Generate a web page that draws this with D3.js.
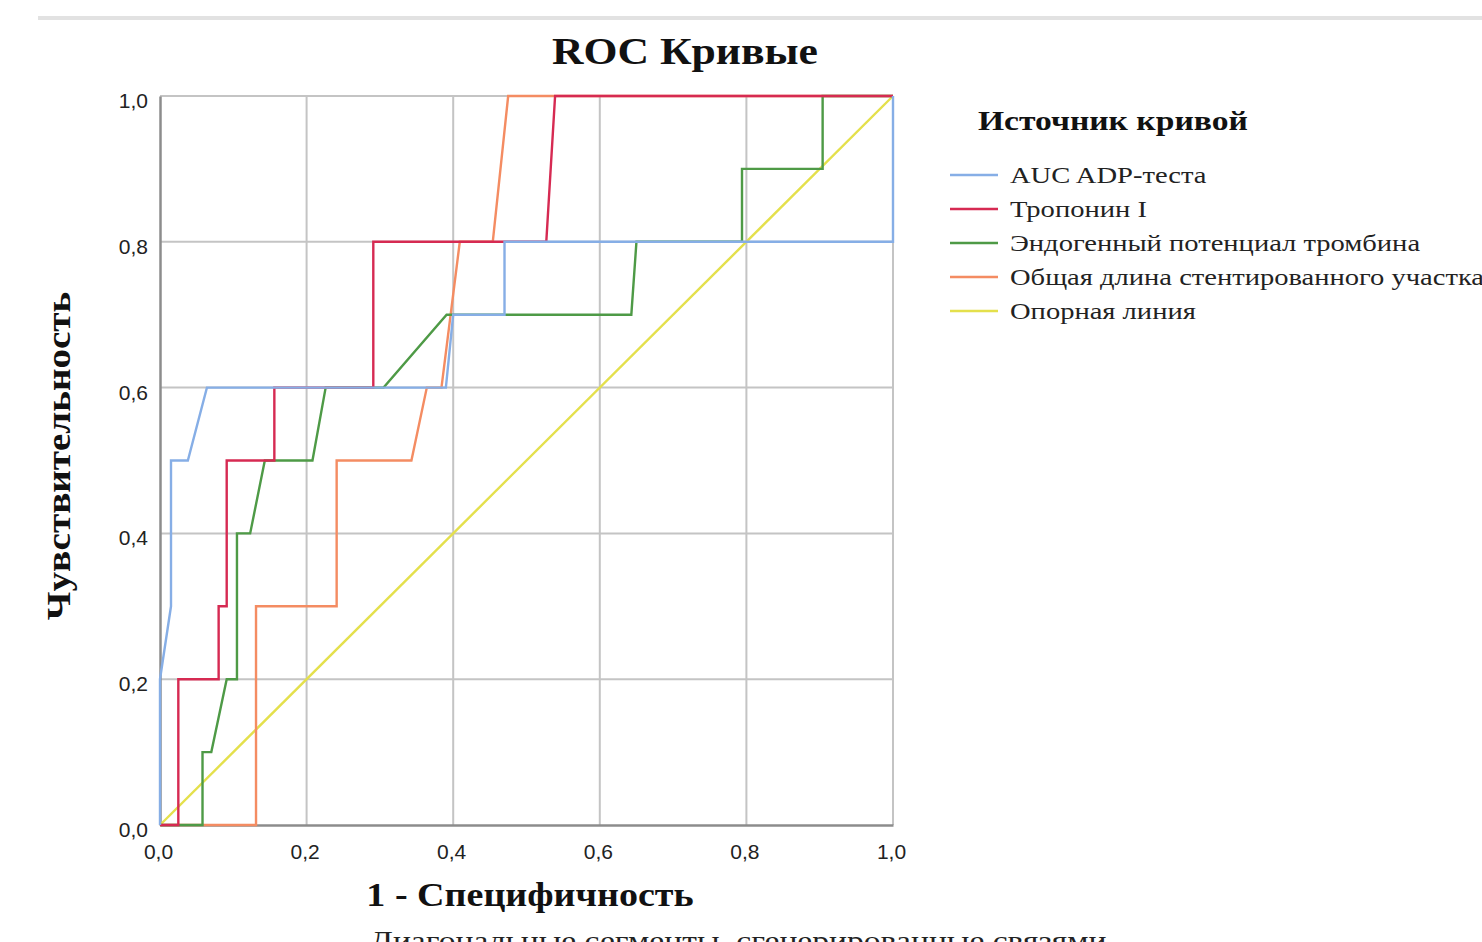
<!DOCTYPE html>
<html><head><meta charset="utf-8">
<script src="https://cdn.jsdelivr.net/npm/d3@7"></script>
<style>body{margin:0;background:#fff;overflow:hidden}</style>
</head><body>
<svg id="c" width="1482" height="942"></svg>
<script>
const title = "ROC Кривые";
const xTitle = "1 - Специфичность";
const yTitle = "Чувствительность";
const footnote = "Диагональные сегменты, сгенерированные связями";
const legendTitle = "Источник кривой";
const seriesNames = ["AUC ADP-теста","Тропонин I","Эндогенный потенциал тромбина","Общая длина стентированного участка","Опорная линия"];
const seriesColors = ["#86aee6","#d62a52","#4e9a46","#f48c62","#e4e04c"];
const ticks = [0,0.2,0.4,0.6,0.8,1.0];
const tickLabels = ["0,0","0,2","0,4","0,6","0,8","1,0"];

// [1 - specificity, sensitivity]
const aucAdp = [[0,0],[0,0.2],[0.015,0.3],[0.015,0.5],[0.038,0.5],[0.064,0.6],[0.39,0.6],[0.40,0.7],[0.47,0.7],[0.47,0.8],[1,0.8],[1,1]];
const troponin = [[0,0],[0.025,0],[0.025,0.2],[0.08,0.2],[0.08,0.3],[0.091,0.3],[0.091,0.5],[0.156,0.5],[0.156,0.6],[0.291,0.6],[0.291,0.8],[0.527,0.8],[0.539,1],[1,1]];
const etp = [[0,0],[0.058,0],[0.058,0.1],[0.07,0.1],[0.091,0.2],[0.105,0.2],[0.105,0.4],[0.123,0.4],[0.143,0.5],[0.208,0.5],[0.226,0.6],[0.305,0.6],[0.391,0.7],[0.643,0.7],[0.650,0.8],[0.794,0.8],[0.794,0.9],[0.904,0.9],[0.904,1],[1,1]];
const stentLen = [[0,0],[0.131,0],[0.131,0.3],[0.241,0.3],[0.241,0.5],[0.343,0.5],[0.364,0.6],[0.384,0.6],[0.409,0.8],[0.454,0.8],[0.475,1],[1,1]];
const reference = [[0,0],[1,1]];
const seriesData = [aucAdp, troponin, etp, stentLen, reference];

const svg = d3.select("#c");
const serif = "'Liberation Serif','Times New Roman',serif";
const sans = "'Liberation Sans',Arial,sans-serif";

// page top rule
svg.append("rect").attr("x",38).attr("y",16).attr("width",1444).attr("height",4).attr("fill","#e2e2e2");

const L=160, R=893, T=96, B=825;
const x = d3.scaleLinear().domain([0,1]).range([L,R]);
const y = d3.scaleLinear().domain([0,1]).range([B,T]);

// grid
const g = svg.append("g");
g.selectAll(".vx").data(ticks.slice(1)).join("line")
  .attr("x1",d=>x(d)).attr("x2",d=>x(d)).attr("y1",T).attr("y2",B)
  .attr("stroke","#c4c4c4").attr("stroke-width",2);
g.selectAll(".hy").data(ticks.slice(1)).join("line")
  .attr("y1",d=>y(d)).attr("y2",d=>y(d)).attr("x1",L).attr("x2",R)
  .attr("stroke","#c4c4c4").attr("stroke-width",2);

// axes
const xAxis = d3.axisBottom(x).tickValues(ticks).tickFormat((d,i)=>tickLabels[i]).tickSize(0).tickPadding(19);
const yAxis = d3.axisLeft(y).tickValues(ticks).tickFormat((d,i)=>tickLabels[i]).tickSize(0).tickPadding(12);
const gx = svg.append("g").attr("transform",`translate(0,${B})`).call(xAxis);
const gy = svg.append("g").attr("transform",`translate(${L},0)`).call(yAxis);
[gx,gy].forEach(a=>{
  a.select(".domain").attr("stroke","#8c8c8c").attr("stroke-width",2.5);
  a.selectAll("text").attr("font-family",sans).attr("font-size",21).attr("fill","#222");
});
gx.selectAll("text").attr("dx",-2);
gy.selectAll("text").attr("dy","0.55em");

// lines
const line = d3.line().x(d=>x(d[0])).y(d=>y(d[1]));
const order = [4,3,2,1,0];
order.forEach(i=>{
  svg.append("path").datum(seriesData[i]).attr("d",line)
    .attr("fill","none").attr("stroke",seriesColors[i]).attr("stroke-width",2.4)
    .attr("stroke-linejoin","miter");
});

function stext(px, py, sx, rot, anchor, size, bold, txt, fill){
  return svg.append("text")
    .attr("transform",`translate(${px},${py}) rotate(${rot}) scale(${sx},1)`)
    .attr("text-anchor",anchor).attr("font-family",serif)
    .attr("font-weight",bold?"bold":"normal").attr("font-size",size)
    .attr("fill",fill||"#111").text(txt);
}

// titles
stext(685, 64, 1.18, 0, "middle", 37, true, title);
stext(530, 906, 1.12, 0, "middle", 34, true, xTitle);
stext(70, 456, 1.15, -90, "middle", 34, true, yTitle);
stext(370, 950, 1.2, 0, "start", 28, false, footnote, "#222");

// legend
stext(978, 130, 1.2, 0, "start", 28, true, legendTitle);
const lg = svg.append("g").selectAll("g").data(seriesNames).join("g")
  .attr("transform",(d,i)=>`translate(0,${175+i*34})`);
lg.append("line").attr("x1",950).attr("x2",998).attr("y1",0).attr("y2",0)
  .attr("stroke",(d,i)=>seriesColors[i]).attr("stroke-width",2.5);
lg.append("text").attr("transform","translate(1010,8) scale(1.19,1)")
  .attr("font-family",serif).attr("font-size",24).attr("fill","#222").text(d=>d);
</script>
</body></html>
